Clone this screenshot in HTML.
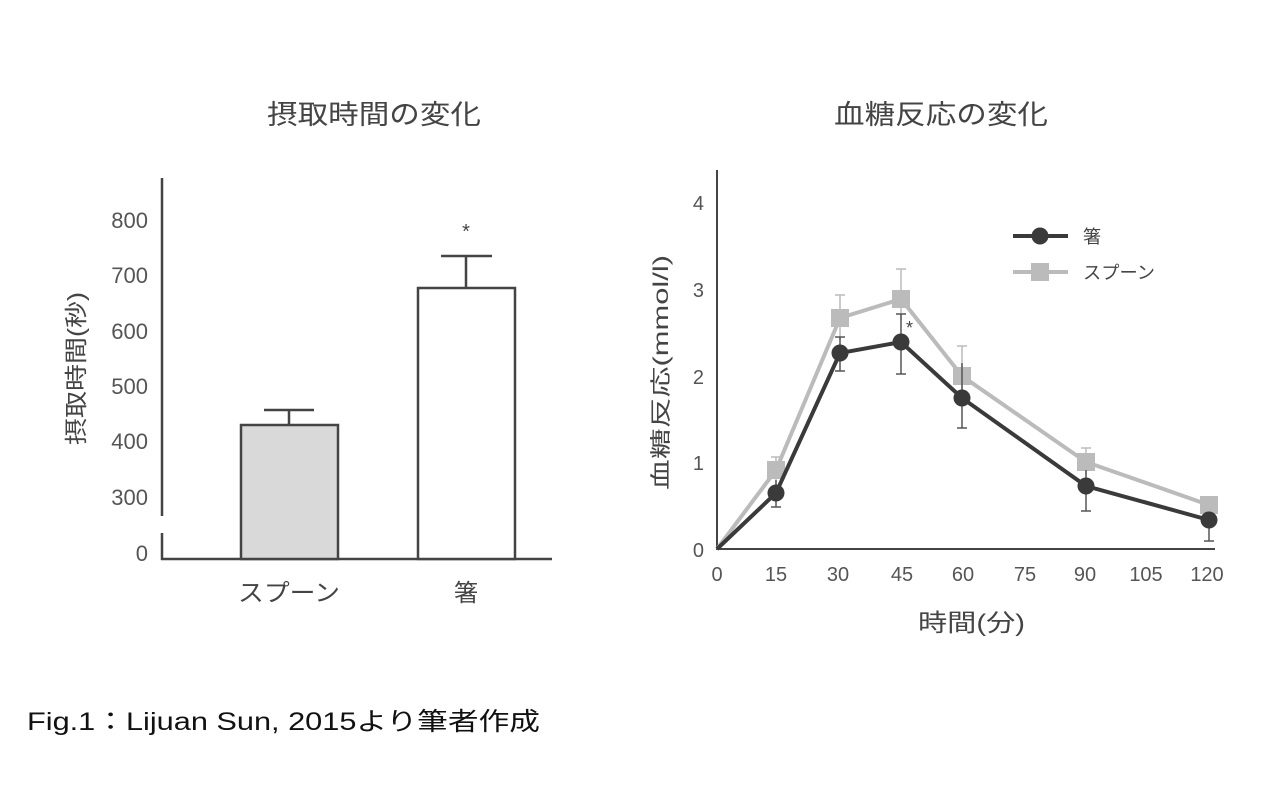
<!DOCTYPE html>
<html><head><meta charset="utf-8"><style>
body{margin:0;background:#fff;}
svg text{font-family:"Liberation Sans","Noto Sans CJK JP",sans-serif;}
</style></head><body>
<svg width="1280" height="798" xmlns="http://www.w3.org/2000/svg">
<g fill="#444" font-size="27">
<text x="267" y="124" textLength="214" lengthAdjust="spacingAndGlyphs">摂取時間の変化</text>
<text x="834" y="124" textLength="214" lengthAdjust="spacingAndGlyphs">血糖反応の変化</text>
</g>
<text x="27" y="730" font-size="25" fill="#111" textLength="513" lengthAdjust="spacingAndGlyphs">Fig.1：Lijuan Sun, 2015より筆者作成</text>
<!-- left chart -->
<g stroke="#444" stroke-width="2.5" fill="none">
<line x1="162" y1="178" x2="162" y2="516"/>
<line x1="162" y1="533" x2="162" y2="560"/>
<line x1="161" y1="559" x2="552" y2="559"/>
</g>
<g fill="#555" font-size="22" text-anchor="end">
<text x="148" y="228">800</text><text x="148" y="283">700</text><text x="148" y="339">600</text>
<text x="148" y="394">500</text><text x="148" y="449">400</text><text x="148" y="505">300</text>
<text x="148" y="561">0</text>
</g>
<text transform="translate(84,445) rotate(-90)" font-size="23" fill="#444" textLength="153" lengthAdjust="spacingAndGlyphs">摂取時間(秒)</text>
<g stroke="#444" stroke-width="2.5">
<rect x="241" y="425" width="97" height="134" fill="#d9d9d9"/>
<line x1="289" y1="425" x2="289" y2="410"/><line x1="264" y1="410" x2="314" y2="410"/>
<rect x="418" y="288" width="97" height="271" fill="#fff"/>
<line x1="466" y1="288" x2="466" y2="256"/><line x1="441" y1="256" x2="492" y2="256"/>
</g>
<text x="466" y="238" text-anchor="middle" font-size="20" fill="#444">*</text>
<g fill="#444" font-size="24">
<text x="238" y="601" textLength="102" lengthAdjust="spacingAndGlyphs">スプーン</text><text x="454" y="601">箸</text>
</g>
<!-- right chart -->
<g stroke="#444" stroke-width="2" fill="none">
<line x1="717" y1="170" x2="717" y2="550"/>
<line x1="716" y1="549" x2="1215" y2="549"/>
</g>
<g fill="#555" font-size="20" text-anchor="end">
<text x="704" y="210">4</text><text x="704" y="297">3</text><text x="704" y="384">2</text>
<text x="704" y="470">1</text><text x="704" y="557">0</text>
</g>
<g fill="#555" font-size="20" text-anchor="middle">
<text x="717" y="581">0</text><text x="776" y="581">15</text><text x="838" y="581">30</text>
<text x="902" y="581">45</text><text x="963" y="581">60</text><text x="1025" y="581">75</text>
<text x="1085" y="581">90</text><text x="1146" y="581">105</text><text x="1207" y="581">120</text>
</g>
<text x="918" y="631" font-size="24" fill="#444" textLength="107" lengthAdjust="spacingAndGlyphs">時間(分)</text>
<text transform="translate(668,490) rotate(-90)" font-size="21" fill="#444" textLength="235" lengthAdjust="spacingAndGlyphs">血糖反応(mmol/l)</text>
<!-- spoon error bars -->
<g stroke="#bbb" stroke-width="1.5">
<line x1="776" y1="457" x2="776" y2="485"/><line x1="771" y1="457" x2="781" y2="457"/>
<line x1="840" y1="295" x2="840" y2="340"/><line x1="835" y1="295" x2="845" y2="295"/>
<line x1="901" y1="269" x2="901" y2="320"/><line x1="896" y1="269" x2="906" y2="269"/>
<line x1="962" y1="346" x2="962" y2="395"/><line x1="957" y1="346" x2="967" y2="346"/>
<line x1="1086" y1="448" x2="1086" y2="475"/><line x1="1081" y1="448" x2="1091" y2="448"/>
<line x1="1209" y1="497" x2="1209" y2="515"/>
</g>
<polyline points="717,549 776,470 840,318 901,299 962,376 1086,462 1209,505" fill="none" stroke="#bbb" stroke-width="4"/>
<g fill="#bbb">
<rect x="767" y="461" width="18" height="18"/><rect x="831" y="309" width="18" height="18"/>
<rect x="892" y="290" width="18" height="18"/><rect x="953" y="367" width="18" height="18"/>
<rect x="1077" y="453" width="18" height="18"/><rect x="1200" y="496" width="18" height="18"/>
</g>
<!-- hashi error bars -->
<g stroke="#555" stroke-width="1.5">
<line x1="776" y1="480" x2="776" y2="507"/><line x1="771" y1="507" x2="781" y2="507"/>
<line x1="840" y1="337" x2="840" y2="371"/><line x1="835" y1="371" x2="845" y2="371"/><line x1="835" y1="337" x2="845" y2="337"/>
<line x1="901" y1="314" x2="901" y2="374"/><line x1="896" y1="374" x2="906" y2="374"/><line x1="896" y1="314" x2="906" y2="314"/>
<line x1="962" y1="363" x2="962" y2="428"/><line x1="957" y1="428" x2="967" y2="428"/>
<line x1="1086" y1="470" x2="1086" y2="511"/><line x1="1081" y1="511" x2="1091" y2="511"/>
<line x1="1209" y1="520" x2="1209" y2="541"/><line x1="1204" y1="541" x2="1214" y2="541"/>
</g>
<polyline points="717,549 776,493 840,353 901,342 962,398 1086,486 1209,520" fill="none" stroke="#3a3a3a" stroke-width="4"/>
<g fill="#3a3a3a">
<circle cx="776" cy="493" r="8.5"/><circle cx="840" cy="353" r="8.5"/><circle cx="901" cy="342" r="8.5"/>
<circle cx="962" cy="398" r="8.5"/><circle cx="1086" cy="486" r="8.5"/><circle cx="1209" cy="520" r="8.5"/>
</g>
<text x="906" y="334" font-size="18" fill="#444">*</text>
<!-- legend -->
<line x1="1013" y1="236" x2="1068" y2="236" stroke="#3a3a3a" stroke-width="4"/>
<circle cx="1040" cy="236" r="8.5" fill="#3a3a3a"/>
<text x="1083" y="243" font-size="18" fill="#444">箸</text>
<line x1="1013" y1="272" x2="1068" y2="272" stroke="#bbb" stroke-width="4"/>
<rect x="1031" y="263" width="18" height="18" fill="#bbb"/>
<text x="1083" y="279" font-size="18" fill="#444" textLength="72" lengthAdjust="spacingAndGlyphs">スプーン</text>
</svg>
</body></html>
